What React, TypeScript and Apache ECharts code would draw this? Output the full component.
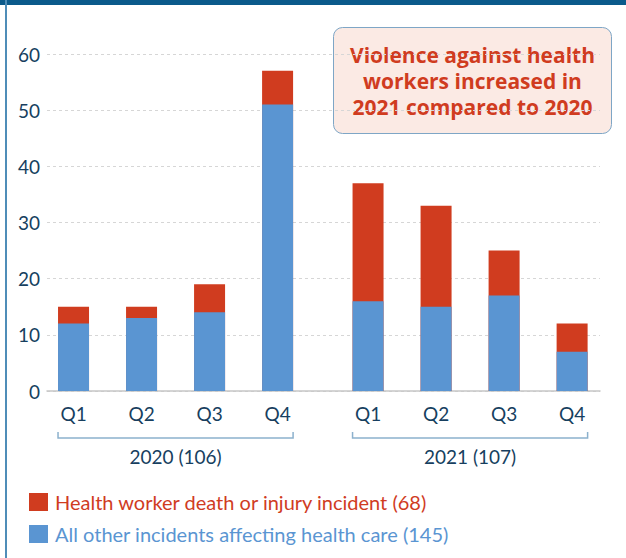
import React, { useEffect, useRef } from "react";
import * as echarts from "echarts";

const categories = ["Q1", "Q2", "Q3", "Q4", "Q1", "Q2", "Q3", "Q4"];
const years = ["2020", "2021"];
const injuryIncidents = [3, 2, 5, 6, 21, 18, 8, 5];
const otherIncidents = [12, 13, 14, 51, 16, 15, 17, 7];
const yTicks = [0, 10, 20, 30, 40, 50, 60];

const RED = "#d03c1f";
const BLUE = "#5a95d2";
const NAVY = "#173f5f";
const FONT = "Lato, 'Open Sans', sans-serif";
const BOLD_FONT = "'Open Sans', Lato, sans-serif";

const GROUP_SIZE = 4;
const GROUP_GAP = 0.33;
const pos = (i: number) => i + (i >= GROUP_SIZE ? GROUP_GAP : 0);
const sum = (a: number[]) => a.reduce((s, v) => s + v, 0);

export default function App() {
  const ref = useRef<HTMLDivElement>(null);
  useEffect(() => {
    document.body.style.margin = "0";
    const chart = echarts.init(ref.current!, null, { renderer: "svg" });
    const positions = categories.map((_, i) => pos(i));
    const redName = `Health worker death or injury incident (${sum(injuryIncidents)})`;
    const blueName = `All other incidents affecting health care (${sum(otherIncidents)})`;
    const yearLabels = years.map(
      (y, g) =>
        `${y} (${sum(injuryIncidents.slice(g * GROUP_SIZE, (g + 1) * GROUP_SIZE)) +
          sum(otherIncidents.slice(g * GROUP_SIZE, (g + 1) * GROUP_SIZE))})`
    );
    const labelFor = (v: number) => {
      let best = 0;
      positions.forEach((p, i) => {
        if (Math.abs(p - v) < Math.abs(positions[best] - v)) best = i;
      });
      return categories[best];
    };
    // stacked look: red bar spans the full stack (other + injury), blue bar drawn over its lower part
    const stackTops = otherIncidents.map((v, i) => v + injuryIncidents[i]);
    chart.setOption({
      animation: false,
      grid: { left: 47, right: 26, top: 54, bottom: 167 },
      xAxis: {
        type: "value",
        min: -0.39,
        max: 7.74,
        splitLine: { show: false },
        axisTick: { show: false },
        axisLine: { show: true, lineStyle: { color: "#c6c6c6", width: 1.5 } },
        axisLabel: {
          customValues: positions,
          formatter: (v: number) => labelFor(v),
          color: NAVY,
          fontSize: 19,
          fontFamily: FONT,
          margin: 13,
        },
      },
      yAxis: {
        type: "value",
        min: 0,
        max: 60,
        interval: 10,
        axisLine: { show: false },
        axisTick: { show: false },
        axisLabel: {
          color: NAVY,
          fontSize: 19,
          fontFamily: FONT,
          margin: 7,
          formatter: (v: number) => (yTicks.includes(v) ? String(v) : ""),
        },
        splitLine: { lineStyle: { color: "#d6d6d6", type: [3, 3], width: 1 } },
      },
      legend: {
        orient: "vertical",
        left: 29,
        top: 492,
        padding: 0,
        itemWidth: 19,
        itemHeight: 18,
        itemGap: 12,
        icon: "rect",
        selectedMode: false,
        textStyle: { fontSize: 20, fontFamily: FONT, padding: [0, 0, 0, 2] },
        data: [
          { name: redName, textStyle: { color: RED } },
          { name: blueName, textStyle: { color: BLUE } },
        ],
      },
      series: [
        {
          name: redName,
          type: "bar",
          barWidth: 31,
          barGap: "-100%",
          itemStyle: { color: RED },
          data: stackTops.map((v, i) => [positions[i], v]),
        },
        {
          name: blueName,
          type: "bar",
          barWidth: 31,
          barGap: "-100%",
          itemStyle: { color: BLUE },
          data: otherIncidents.map((v, i) => [positions[i], v]),
        },
        {
          type: "custom",
          silent: true,
          clip: false,
          encode: { x: [0, 1], y: 2 },
          data: years.map((_, g) => [pos(g * GROUP_SIZE), pos(g * GROUP_SIZE + GROUP_SIZE - 1), g]),
          renderItem: (params: any, api: any) => {
            const s = api.value(0);
            const e = api.value(1);
            const g = api.value(2);
            const p1 = api.coord([s, 0]);
            const p2 = api.coord([e, 0]);
            const half = 15.5;
            const x1 = p1[0] - half;
            const x2 = p2[0] + half;
            const y = p1[1] + 47;
            return {
              type: "group",
              children: [
                {
                  type: "polyline",
                  shape: { points: [[x1, y - 6], [x1, y], [x2, y], [x2, y - 6]] },
                  style: { stroke: "#8cb1cd", lineWidth: 1.5, fill: null },
                },
                {
                  type: "text",
                  style: {
                    text: yearLabels[g],
                    x: (x1 + x2) / 2,
                    y: y + 18,
                    align: "center",
                    verticalAlign: "middle",
                    fontSize: 19,
                    fontFamily: FONT,
                    fill: NAVY,
                  },
                },
              ],
            };
          },
        },
      ],
      graphic: [
        { type: "rect", left: 0, top: 0, shape: { x: 0, y: 0, width: 626, height: 5 }, style: { fill: "#0b5a8b" } },
        { type: "rect", left: 5, top: 0, shape: { x: 0, y: 0, width: 2, height: 558 }, style: { fill: "#4f8db8" } },
        {
          type: "group",
          left: 333,
          top: 27,
          children: [
            {
              type: "rect",
              shape: { x: 0, y: 0, width: 278, height: 106, r: 9 },
              style: { fill: "#fbeae4", stroke: "#7ea6c6", lineWidth: 1 },
            },
            {
              type: "text",
              style: {
                text: "Violence against health\nworkers increased in\n2021 compared to 2020",
                x: 139,
                y: 53,
                align: "center",
                verticalAlign: "middle",
                fontSize: 21,
                fontWeight: "bold",
                fontFamily: BOLD_FONT,
                lineHeight: 26,
                fill: RED,
              },
            },
          ],
        },
      ],
    });
    return () => chart.dispose();
  }, []);
  return <div ref={ref} style={{ width: 626, height: 558 }} />;
}
